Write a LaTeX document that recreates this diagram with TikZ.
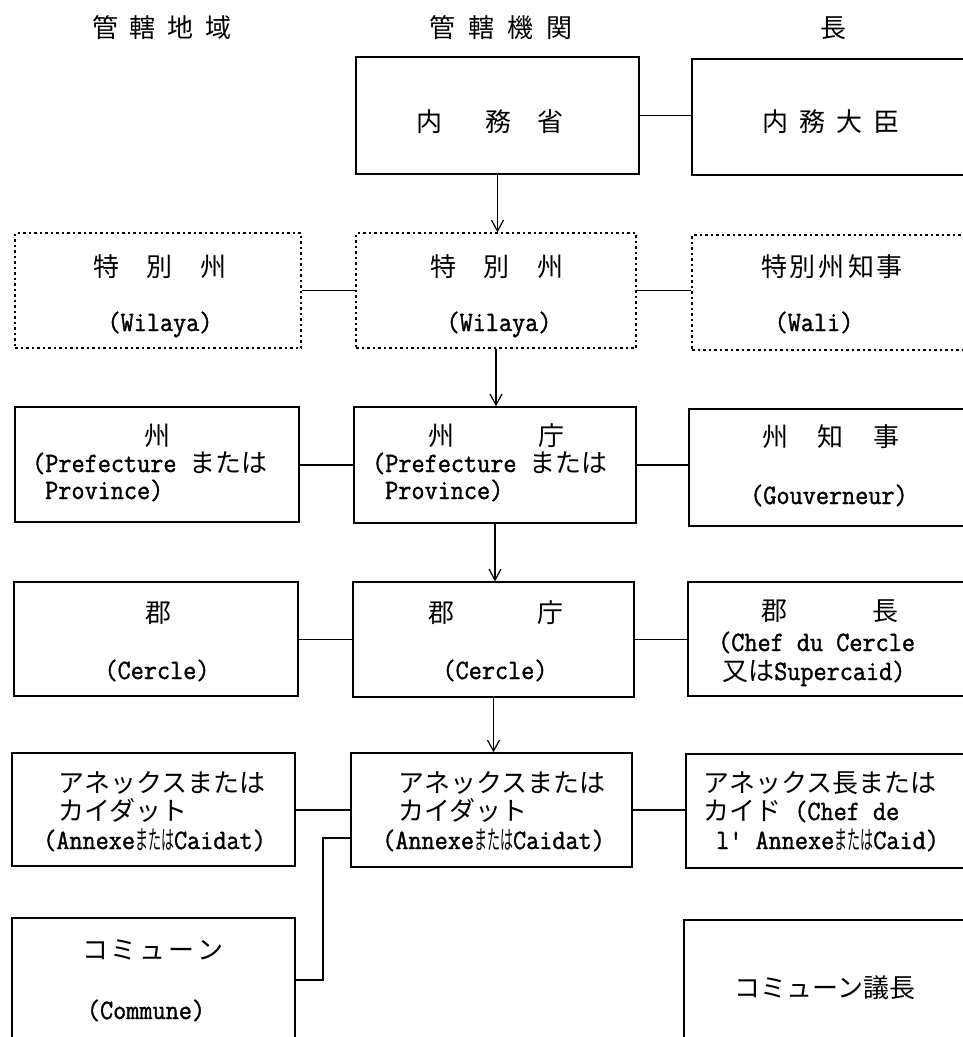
\documentclass[tikz,border=0pt]{standalone}
\usepackage{fontspec}
\usepackage{graphicx}
\usetikzlibrary{arrows.meta}
\setmonofont{Latin Modern Mono}[FakeStretch=0.91,FakeBold=1.3]
\newfontfamily\cjk{Noto Sans CJK JP}
\newcommand\J[1]{{\fontsize{26pt}{30pt}\selectfont\cjk #1}}
\newcommand\halfJ[1]{\scalebox{0.5}[1]{\fontsize{26pt}{30pt}\selectfont\cjk #1}}
\tikzset{
  box/.style={draw, line width=1.4pt, inner sep=0pt, anchor=center},
  dbox/.style={box, line width=1.3pt, dash pattern=on 2.5pt off 3pt},
  txt/.style={inner sep=0pt, font=\fontsize{28pt}{30pt}\selectfont\ttfamily},
  conn/.style={line width=1.2pt},
  arr/.style={conn, -{Straight Barb[length=11pt,width=12pt]}},
}
\begin{document}
\begin{tikzpicture}[x=1pt,y=-1pt]
\useasboundingbox (0,0) rectangle (963,1037);
\clip (0,0) rectangle (963,1037);
\fill[white] (0,0) rectangle (963,1037);

% headers
\node[txt, anchor=base] (h1) at (162,37) {\J{管\hspace{12pt}轄\hspace{12pt}地\hspace{12pt}域}};
\node[txt, anchor=base] (h2) at (501,37) {\J{管\hspace{13pt}轄\hspace{13pt}機\hspace{13pt}関}};
\node[txt, anchor=base] (h3) at (833,37) {\J{長}};

% row 1
\node[box, minimum width=283pt, minimum height=117pt] (m1) at (497.5,115.5) {};
\node[box, minimum width=283pt, minimum height=116pt] (r1) at (833.5,117) {};
\node[txt, anchor=base west] (t1m) at (416,131) {\J{内\hspace{43pt}務\hspace{26pt}省}};
\node[txt, anchor=base] (t1r) at (831,131) {\J{内\hspace{11pt}務\hspace{11pt}大\hspace{11pt}臣}};

% row 2 (dotted)
\node[dbox, minimum width=286pt, minimum height=115pt] (l2) at (158,290.5) {};
\node[dbox, minimum width=280pt, minimum height=115pt] (m2) at (496,290.5) {};
\node[dbox, minimum width=283pt, minimum height=115pt] (r2) at (833.5,292.5) {};
\node[txt, anchor=base] (t2l1) at (160,276) {\J{特\hspace{28pt}別\hspace{28pt}州}};
\node[txt, anchor=base] (t2l2) at (160,331) {(Wilaya)};
\node[txt, anchor=base] (t2m1) at (497,276) {\J{特\hspace{28pt}別\hspace{28pt}州}};
\node[txt, anchor=base] (t2m2) at (499,331) {(Wilaya)};
\node[txt, anchor=base] (t2r1) at (832,276) {\J{特\hspace{3pt}別\hspace{3pt}州\hspace{3pt}知\hspace{3pt}事}};
\node[txt, anchor=base] (t2r2) at (814,331) {(Wali)};

% row 3
\node[box, minimum width=284pt, minimum height=115pt] (l3) at (157,464.5) {};
\node[box, minimum width=282pt, minimum height=116pt] (m3) at (495,465) {};
\node[box, minimum width=286pt, minimum height=117pt] (r3) at (832,467.5) {};
\node[txt, anchor=base] (t3l1) at (157,445) {\J{州}};
\node[txt, anchor=base west] (t3l2) at (32,472) {(Prefecture \J{または}};
\node[txt, anchor=base west] (t3l3) at (45,499) {Province)};
\node[txt, anchor=base west] (t3m1) at (428,445) {\J{州\hspace{84pt}庁}};
\node[txt, anchor=base west] (t3m2) at (372,472) {(Prefecture \J{または}};
\node[txt, anchor=base west] (t3m3) at (385,499) {Province)};
\node[txt, anchor=base] (t3r1) at (831,446) {\J{州\hspace{30pt}知\hspace{30pt}事}};
\node[txt, anchor=base] (t3r2) at (829,504) {(Gouverneur)};

% row 4
\node[box, minimum width=284pt, minimum height=114pt] (l4) at (156,639) {};
\node[box, minimum width=281pt, minimum height=115pt] (m4) at (493.5,639.5) {};
\node[box, minimum width=287pt, minimum height=114pt] (r4) at (831.5,639) {};
\node[txt, anchor=base] (t4l1) at (158,622) {\J{郡}};
\node[txt, anchor=base] (t4l2) at (157,679) {(Cercle)};
\node[txt, anchor=base west] (t4m1) at (428,622) {\J{郡\hspace{83pt}庁}};
\node[txt, anchor=base] (t4m2) at (495,679) {(Cercle)};
\node[txt, anchor=base west] (t4r1) at (761,620) {\J{郡\hspace{85pt}長}};
\node[txt, anchor=base west] (t4r2) at (718,651) {(Chef du Cercle};
\node[txt, anchor=base west] (t4r3) at (722,680) {\J{又は}Supercaid)};

% row 5
\node[box, minimum width=283pt, minimum height=113pt] (l5) at (153.5,809.5) {};
\node[box, minimum width=281pt, minimum height=114pt] (m5) at (491.5,810) {};
\node[box, minimum width=289pt, minimum height=114pt] (r5) at (830.5,811) {};
\node[txt, anchor=base west] (t5l1) at (58,792) {\J{アネックスまたは}};
\node[txt, anchor=base west] (t5l2) at (58,820) {\J{カイダット}};
\node[txt, anchor=base west] (t5l3) at (43,849) {(Annexe\halfJ{または}Caidat)};
\node[txt, anchor=base west] (t5m1) at (398,792) {\J{アネックスまたは}};
\node[txt, anchor=base west] (t5m2) at (398,820) {\J{カイダット}};
\node[txt, anchor=base west] (t5m3) at (382,849) {(Annexe\halfJ{または}Caidat)};
\node[txt, anchor=base west] (t5r1) at (703,792) {\J{アネックス長または}};
\node[txt, anchor=base west] (t5r2) at (703,820) {\J{カイド} (Chef de};
\node[txt, anchor=base west] (t5r3) at (716,849) {l' Annexe\halfJ{または}Caid)};

% row 6
\node[box, minimum width=283pt, minimum height=142pt] (l6) at (153.5,989) {};
\node[box, minimum width=291pt, minimum height=140pt] (r6) at (829.5,990) {};
\node[txt, anchor=base] (t6l1) at (153,959) {\J{コ\hspace{3pt}ミ\hspace{3pt}ュ\hspace{3pt}ー\hspace{3pt}ン}};
\node[txt, anchor=base] (t6l2) at (146,1019) {(Commune)};
\node[txt, anchor=base] (t6r) at (825,997) {\J{コミューン議長}};

% horizontal connectors
\draw[conn] (m1.east) -- (m1.east -| r1.west);
\draw[conn] (l2.east) -- (m2.west);
\draw[conn] (m2.east) -- (m2.east -| r2.west);
\draw[conn] (l3.east |- m3.west) -- (m3.west);
\draw[conn] (m3.east) -- (m3.east -| r3.west);
\draw[conn] (l4.east |- m4.west) -- (m4.west);
\draw[conn] (m4.east) -- (m4.east -| r4.west);
\draw[conn] (l5.east |- m5.west) -- (m5.west);
\draw[conn] (m5.east) -- (m5.east -| r5.west);

% vertical arrows
\draw[arr] (m1.south) -- (m1.south |- m2.north);
\draw[arr] (m2.south) -- (m2.south |- m3.north);
\draw[arr] (m3.south) -- (m3.south |- m4.north);
\draw[arr] (m4.south) -- (m4.south |- m5.north);

% elbow to commune
\coordinate (e1) at (323,838);
\coordinate (e2) at (323,980);
\draw[conn] (e1 -| m5.west) -- (e1) -- (e2) -- (e2 -| l6.east);
\end{tikzpicture}
\end{document}
